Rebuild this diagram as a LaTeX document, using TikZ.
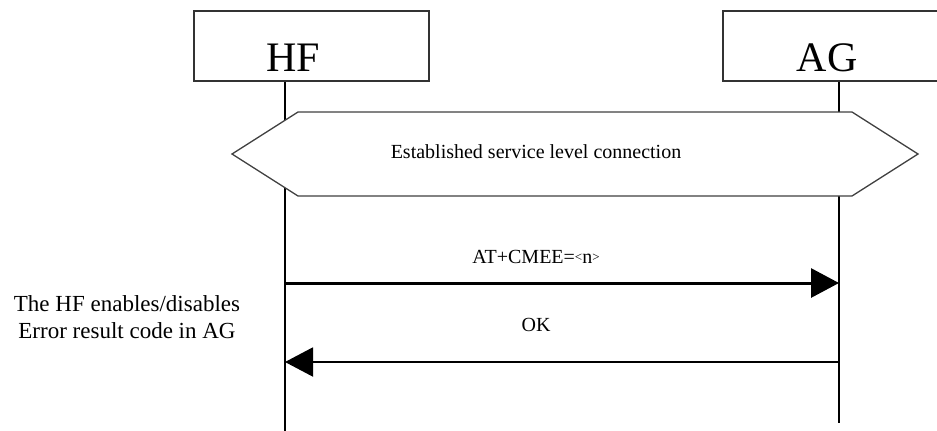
\documentclass[tikz,border=0pt]{standalone}
\usepackage{fontspec}
\setmainfont{Liberation Serif}
\usetikzlibrary{arrows.meta}

\begin{document}
\begin{tikzpicture}[x=1pt,y=-1pt,
  party/.style={draw=black!80, line width=1.4pt, minimum width=235pt, minimum height=70pt, inner sep=0pt},
  partytext/.style={font=\fontsize{42}{42}\selectfont, anchor=base, inner sep=0pt},
  life/.style={line width=2.6pt},
  msg/.style={-{Triangle[length=28pt,width=29pt]}},
  txt/.style={font=\fontsize{20}{24}\selectfont, anchor=base, inner sep=0pt}]
\useasboundingbox (0,0) rectangle (937,431);
\clip (0,0) rectangle (937,431);
\node[party] (hfbox) at (311.5,46) {};
\node[party] (agbox) at (840.5,46) {};
\node[partytext] (hf) at (293,71) {HF};
\node[partytext] (ag) at (827,71) {AG};
\coordinate (hfend) at (285,431);
\coordinate (agend) at (839,423);
\draw[life] (hfbox.south -| hfend) -- (hfend);
\draw[life] (agbox.south -| agend) -- (agend);
\draw[draw=black!75, line width=1.3pt, fill=white] (232,154) -- (298,112) -- (852,112) -- (918,154) -- (852,196) -- (298,196) -- cycle;
\node[txt] (slc) at (536,158) {Established service level connection};
\coordinate (hf1) at (285,283);
\coordinate (ag1) at (839,283);
\coordinate (ag2) at (839,362);
\coordinate (hf2) at (285,362);
\draw[msg, line width=3pt] (hf1) -- (ag1);
\draw[msg, line width=2pt] (ag2) -- (hf2);
\node[txt] (cmee) at (536,263) {AT+CMEE={\fontsize{13}{13}\selectfont\raisebox{2pt}{<}}n{\fontsize{13}{13}\selectfont\raisebox{2pt}{>}}};
\node[txt] (ok) at (536,331) {OK};
\node[font=\fontsize{23}{27}\selectfont, align=center, inner sep=0pt] (note) at (127,317) {The HF enables/disables\\Error result code in AG};
\end{tikzpicture}
\end{document}
